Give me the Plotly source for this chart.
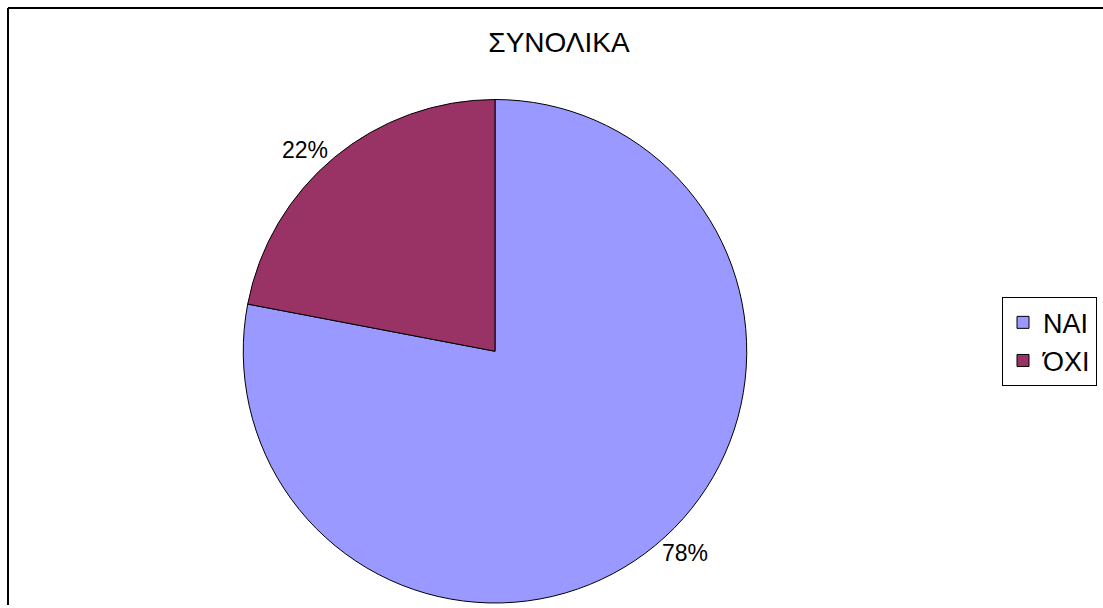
import plotly.graph_objects as go

categories = ["ΝΑΙ", "ΌΧΙ"]
values = [78, 22]
colors = ["#9999FF", "#993366"]
title_text = "ΣΥΝΟΛΙΚΑ"

W, H = 1103, 608
FONT = "Liberation Sans, Arial, sans-serif"

fig = go.Figure()
fig.add_trace(go.Pie(
    labels=categories,
    values=values,
    sort=False,
    direction="clockwise",
    rotation=0,
    marker=dict(colors=colors, line=dict(color="black", width=1)),
    textinfo="percent",
    textposition="outside",
    textfont=dict(family=FONT, size=23, color="black"),
    domain=dict(x=[242 / W, 748 / W], y=[2 / H, 508 / H]),
    hoverinfo="label+percent",
))

frame_line = dict(color="black", width=2)
fig.update_layout(
    width=W, height=H,
    margin=dict(l=0, r=0, t=0, b=0),
    paper_bgcolor="white",
    plot_bgcolor="white",
    font=dict(family=FONT, color="black"),
    title=dict(text=title_text, x=559 / W, xanchor="center", y=1 - 42 / H, yanchor="middle",
               font=dict(family=FONT, size=28, color="black")),
    legend=dict(x=1002 / W, xanchor="left", y=1 - 343.5 / H, yanchor="middle",
                bordercolor="black", borderwidth=1, bgcolor="white",
                font=dict(family=FONT, size=27, color="black"),
                itemwidth=30),
    shapes=[
        dict(type="line", xref="paper", yref="paper",
             x0=8 / W, x1=8 / W, y0=0, y1=1 - 8 / H, line=frame_line),
        dict(type="line", xref="paper", yref="paper",
             x0=8 / W, x1=1, y0=1 - 8 / H, y1=1 - 8 / H, line=frame_line),
    ],
)

fig.write_html("out.html", config={"displayModeBar": False},
               post_script="document.body.style.margin='0';document.body.style.overflow='hidden';")
